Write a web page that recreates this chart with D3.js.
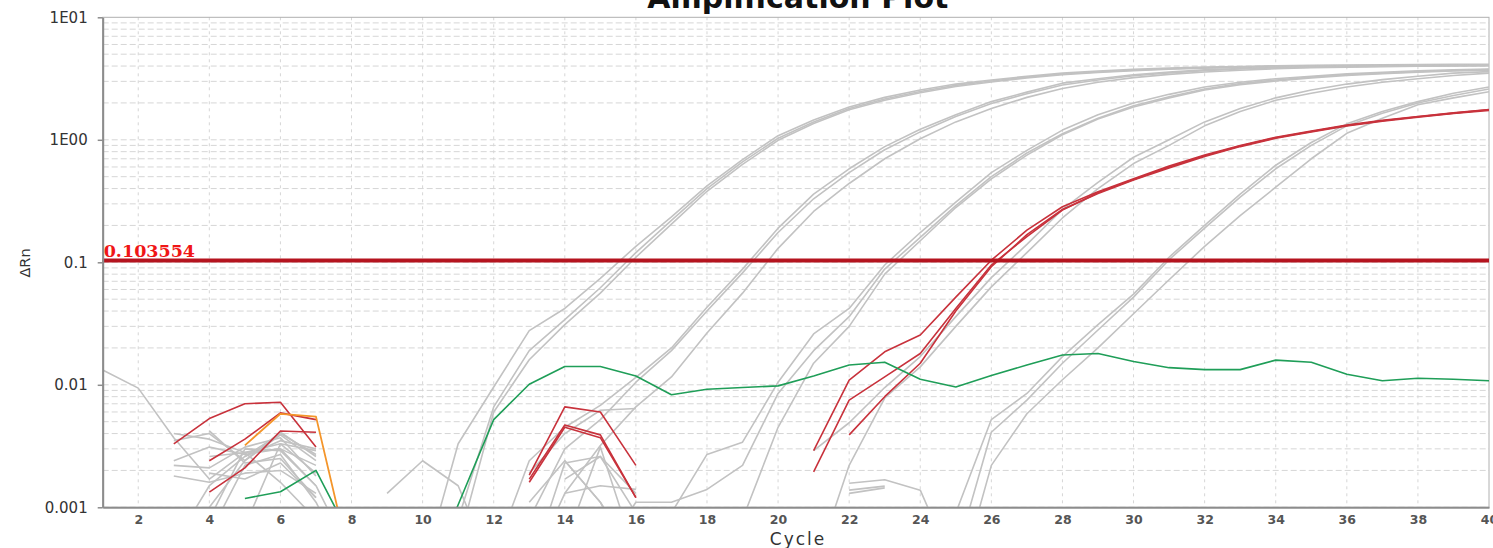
<!DOCTYPE html>
<html>
<head>
<meta charset="utf-8">
<script src="https://cdn.jsdelivr.net/npm/d3@7"></script>
<style>
  html, body { margin: 0; padding: 0; background: #ffffff; overflow: hidden; }
  svg { display: block; }
</style>
</head>
<body>
<svg id="chart" width="1493" height="548"></svg>
<script>
// ---- Axis definitions ----
const cycleTicks = [2, 4, 6, 8, 10, 12, 14, 16, 18, 20, 22, 24, 26, 28, 30, 32, 34, 36, 38, 40];
const yTickValues = [0.001, 0.01, 0.1, 1, 10];
const yTickLabels = ["0.001", "0.01", "0.1", "1E00", "1E01"];
const threshold = 0.103554;

// ---- Delta Rn traces: [first cycle, values per cycle] ----
// early baseline noise (cycles 1-8)
const noiseE0 = [0.0132, 0.0094, 0.0037, 0.0017, 0.0028, 0.0030, 0.0015];
const noiseE1 = [0.0040, 0.0036, 0.0028, 0.0033, 0.0029];
const noiseE2 = [0.0035, 0.0040, 0.0024, 0.0041, 0.0026];
const noiseE3 = [0.0024, 0.0031, 0.0027, 0.0030, 0.0022];
const noiseE4 = [0.0022, 0.0021, 0.0031, 0.0037, 0.0018];
const noiseE5 = [0.0018, 0.0016, 0.0019, 0.0020, 0.0013];
const noiseE6 = [0.0042, 0.0023, 0.0025, 0.0012];
const noiseE7 = [0.0005, 0.0015, 0.0026, 0.0040, 0.0027];
const noiseE8 = [0.0004, 0.0010, 0.0024, 0.0039, 0.0024];
const noiseE9 = [0.0008, 0.0030, 0.0029, 0.0015, 0.0004];
const noiseE10 = [0.0006, 0.0022, 0.0027, 0.0011, 0.0003];
const noiseE11 = [0.0007, 0.0033, 0.0019];
const noiseE12 = [0.0026, 0.0028, 0.0016, 0.0008];
const noiseE13 = [0.0019, 0.0017, 0.0023, 0.0012];
const noiseE14 = [0.0026, 0.0035, 0.0030];
const noiseM9 = [0.0013, 0.0024, 0.0015, 0.0003];
// mid-run noise (cycles 13-16, 22-24)
const noiseM1 = [0.0011, 0.0024, 0.0011, 0.0004];
const noiseM2 = [0.0019, 0.0040, 0.0062, 0.0064];
const noiseM3 = [0.0003, 0.0023, 0.0026, 0.0013];
const noiseM4 = [0.0013, 0.0015, 0.0014];
const noiseM5 = [0.0017, 0.0026, 0.0009];
const noiseM6 = [0.0024, 0.0011, 0.0003];
const noiseM7 = [0.0005, 0.0031, 0.0004];
const noiseF1 = [0.00157, 0.00168, 0.00138, 0.0003];
const noiseF2 = [0.00138, 0.00149];
const noiseF3 = [0.00130, 0.00144];

// amplification curves (grey wells)
const ampG1a = [0.0003, 0.0033, 0.0096, 0.0277, 0.042, 0.074, 0.135, 0.235, 0.42, 0.69, 1.08, 1.45, 1.85, 2.22, 2.55, 2.85, 3.08, 3.3, 3.5, 3.64, 3.76, 3.85, 3.92, 3.97, 4.02, 4.05, 4.08, 4.1, 4.12, 4.13, 4.14];
const ampG1b = [0.0002, 0.0008, 0.0066, 0.019, 0.034, 0.062, 0.12, 0.22, 0.40, 0.66, 1.03, 1.40, 1.80, 2.15, 2.48, 2.78, 3.02, 3.25, 3.44, 3.58, 3.70, 3.80, 3.87, 3.93, 3.98, 4.01, 4.04, 4.06, 4.08, 4.09, 4.10];
const ampG1c = [0.0005, 0.0060, 0.016, 0.031, 0.056, 0.11, 0.205, 0.38, 0.63, 0.99, 1.36, 1.76, 2.10, 2.42, 2.72, 2.96, 3.2, 3.4, 3.55, 3.67, 3.77, 3.85, 3.9, 3.95, 3.98, 4.0, 4.02, 4.04, 4.05, 4.06];
const ampG2a = [0.0004, 0.0024, 0.0045, 0.0068, 0.0115, 0.020, 0.043, 0.088, 0.19, 0.36, 0.58, 0.88, 1.22, 1.6, 2.05, 2.45, 2.9, 3.15, 3.4, 3.58, 3.72, 3.82, 3.9, 3.96, 4.0, 4.03, 4.05, 4.06, 4.07];
const ampG2b = [0.0008, 0.0030, 0.0052, 0.0105, 0.019, 0.040, 0.082, 0.175, 0.33, 0.54, 0.83, 1.16, 1.55, 1.98, 2.38, 2.8, 3.08, 3.33, 3.52, 3.67, 3.78, 3.86, 3.92, 3.96, 3.99, 4.01, 4.02, 4.03];
const ampG2c = [0.0003, 0.0013, 0.0032, 0.0066, 0.0116, 0.0265, 0.056, 0.13, 0.26, 0.44, 0.70, 1.02, 1.40, 1.80, 2.22, 2.62, 2.95, 3.22, 3.42, 3.58, 3.7, 3.8, 3.87, 3.92, 3.96, 3.99, 4.01, 4.02];
const ampG3a = [0.0009, 0.0027, 0.0034, 0.0105, 0.026, 0.042, 0.095, 0.175, 0.31, 0.54, 0.82, 1.2, 1.6, 2.0, 2.35, 2.7, 2.95, 3.15, 3.3, 3.45, 3.55, 3.65, 3.72, 3.78];
const ampG3b = [0.0004, 0.0011, 0.0011, 0.0014, 0.0022, 0.0085, 0.019, 0.036, 0.088, 0.16, 0.29, 0.50, 0.78, 1.12, 1.5, 1.9, 2.25, 2.6, 2.88, 3.08, 3.25, 3.4, 3.5, 3.6, 3.68, 3.74];
const ampG3c = [0.0008, 0.0045, 0.015, 0.030, 0.080, 0.15, 0.28, 0.48, 0.75, 1.1, 1.48, 1.85, 2.2, 2.55, 2.82, 3.02, 3.2, 3.35, 3.47, 3.57, 3.65, 3.7];
const ampG4a = [0.0029, 0.0049, 0.0095, 0.017, 0.036, 0.075, 0.14, 0.27, 0.45, 0.72, 1.0, 1.4, 1.8, 2.2, 2.55, 2.85, 3.1, 3.3, 3.5, 3.6];
const ampG4b = [0.0003, 0.0022, 0.0078, 0.014, 0.030, 0.063, 0.12, 0.23, 0.40, 0.64, 0.9, 1.3, 1.7, 2.1, 2.4, 2.7, 2.95, 3.15, 3.35, 3.5];
const ampG5a = [0.0002, 0.0009, 0.0052, 0.0085, 0.017, 0.031, 0.055, 0.11, 0.2, 0.36, 0.62, 0.95, 1.35, 1.7, 2.05, 2.4, 2.7];
const ampG5b = [0.0004, 0.0041, 0.0075, 0.015, 0.028, 0.052, 0.105, 0.19, 0.34, 0.58, 0.9, 1.3, 1.65, 2.0, 2.3, 2.6];
const ampG5c = [0.0002, 0.0022, 0.0058, 0.011, 0.020, 0.038, 0.072, 0.135, 0.24, 0.41, 0.7, 1.13, 1.5, 1.93, 2.2, 2.47];

// highlighted target wells (red)
const targetEarly1 = [0.0033, 0.0053, 0.0070, 0.0072, 0.0031];
const targetEarly2 = [0.0024, 0.0036, 0.0059, 0.0052];
const targetEarly3 = [0.00133, 0.0021, 0.0042, 0.0041];
const targetMid1 = [0.00183, 0.0066, 0.0060, 0.0022];
const targetMid2 = [0.0017, 0.0047, 0.0039, 0.0012];
const targetMid3 = [0.0016, 0.0045, 0.0037, 0.0012];
const targetAmpA = [0.0029, 0.0109, 0.0186, 0.0255, 0.052, 0.104, 0.183, 0.284, 0.377, 0.48, 0.61, 0.75, 0.90, 1.05, 1.18, 1.32, 1.44, 1.55, 1.66, 1.77];
const targetAmpB = [0.00195, 0.0075, 0.0116, 0.018, 0.042, 0.095, 0.162, 0.267, 0.37, 0.475, 0.60, 0.74, 0.89, 1.04, 1.17, 1.31, 1.43, 1.54, 1.65, 1.76];
const targetAmpC = [0.0039, 0.008, 0.015, 0.040, 0.092, 0.168, 0.27, 0.365, 0.47, 0.59, 0.73, 0.88, 1.03, 1.16, 1.30, 1.42, 1.53, 1.64, 1.74];

// orange well and green no-template control
const orangeWell = [0.0032, 0.0058, 0.0055, 0.00032];
const ntcWell = [0.00118, 0.00134, 0.0020, 0.00055, 0.0002, 0.0002, 0.00105, 0.0052, 0.0101, 0.0141, 0.0141, 0.0118, 0.0083, 0.0092, 0.0095, 0.0098, 0.0118, 0.0145, 0.0153, 0.0111, 0.0096, 0.0119, 0.0145, 0.0175, 0.0180, 0.0155, 0.0138, 0.0133, 0.0133, 0.0159, 0.0153, 0.0122, 0.0108, 0.0113, 0.0111, 0.0108];

const grayTraces = [
  [1, noiseE0], [3, noiseE1], [3, noiseE2], [3, noiseE3], [3, noiseE4], [3, noiseE5],
  [4, noiseE6], [3, noiseE7], [3, noiseE8], [4, noiseE9], [4, noiseE10], [5, noiseE11],
  [4, noiseE12], [4, noiseE13], [5, noiseE14], [9, noiseM9],
  [13, noiseM1], [13, noiseM2], [13, noiseM3], [14, noiseM4], [14, noiseM5], [14, noiseM6], [14, noiseM7],
  [22, noiseF1], [22, noiseF2], [22, noiseF3],
  [10, ampG1a], [10, ampG1b], [11, ampG1c],
  [12, ampG2a], [13, ampG2b], [13, ampG2c],
  [17, ampG3a], [15, ampG3b], [19, ampG3c],
  [21, ampG4a], [21, ampG4b],
  [24, ampG5a], [25, ampG5b], [25, ampG5c]
];
const redTraces = [
  [3, targetEarly1], [4, targetEarly2], [4, targetEarly3],
  [13, targetMid1], [13, targetMid2], [13, targetMid3],
  [21, targetAmpA], [21, targetAmpB], [22, targetAmpC]
];
const orangeTraces = [[5, orangeWell]];
const greenTraces = [[5, ntcWell]];

// ---- Layout ----
const svg = d3.select("#chart");
const plotLeft = 102.7, plotRight = 1489, plotTop = 17.3, plotBottom = 507.3;

const x = d3.scaleLinear().domain([1, 40]).range([plotLeft, plotRight]);
const y = d3.scaleLog().domain([0.001, 10]).range([plotBottom, plotTop]);

svg.append("defs").append("clipPath").attr("id", "plot-clip")
  .append("rect").attr("x", plotLeft).attr("y", plotTop)
  .attr("width", plotRight - plotLeft).attr("height", plotBottom - plotTop);

// ---- Grid ----
const grid = svg.append("g").attr("class", "grid");
const minorValues = [];
[0.001, 0.01, 0.1, 1].forEach(dec => {
  for (let k = 1; k <= 9; k++) minorValues.push(dec * k);
});
grid.selectAll("line.h").data(minorValues).enter().append("line")
  .attr("x1", plotLeft).attr("x2", plotRight)
  .attr("y1", d => y(d)).attr("y2", d => y(d))
  .attr("stroke", "#d6d6d6").attr("stroke-width", 1)
  .attr("stroke-dasharray", "6,3");
grid.selectAll("line.v").data(cycleTicks.filter(c => c < 40)).enter().append("line")
  .attr("x1", d => x(d)).attr("x2", d => x(d))
  .attr("y1", plotTop).attr("y2", plotBottom)
  .attr("stroke", "#d6d6d6").attr("stroke-width", 1)
  .attr("stroke-dasharray", "3,4");

// ---- Frame ----
svg.append("rect").attr("x", plotLeft).attr("y", plotTop)
  .attr("width", plotRight - plotLeft).attr("height", plotBottom - plotTop)
  .attr("fill", "none").attr("stroke", "#b0b0b0").attr("stroke-width", 1);

// ---- Traces ----
const line = d3.line()
  .x(d => x(d[0]))
  .y(d => y(d[1]));

function toPoints(trace) {
  const start = trace[0];
  return trace[1].map((v, i) => [start + i, v]);
}

const traceLayer = svg.append("g").attr("clip-path", "url(#plot-clip)");
function drawTraces(list, color, width) {
  traceLayer.append("g").selectAll("path").data(list).enter().append("path")
    .attr("d", t => line(toPoints(t)))
    .attr("fill", "none")
    .attr("stroke", color)
    .attr("stroke-width", width)
    .attr("stroke-linejoin", "round");
}
drawTraces(grayTraces, "#c2c2c2", 1.6);
drawTraces(redTraces, "#c8323c", 1.6);
drawTraces(orangeTraces, "#f4952a", 1.8);
drawTraces(greenTraces, "#1f9e58", 1.6);

// ---- Threshold ----
svg.append("line")
  .attr("x1", plotLeft).attr("x2", plotRight)
  .attr("y1", y(threshold)).attr("y2", y(threshold))
  .attr("stroke", "#b5141f").attr("stroke-width", 4);
svg.append("text")
  .attr("x", plotLeft + 1).attr("y", y(threshold) - 3)
  .attr("font-family", "DejaVu Serif")
  .attr("font-weight", "bold")
  .attr("font-size", 17.5)
  .attr("fill", "#f01616")
  .text(threshold.toString());

// ---- Axes ----
const yAxis = d3.axisLeft(y)
  .tickValues(yTickValues)
  .tickFormat((d, i) => yTickLabels[i])
  .tickSizeInner(5).tickSizeOuter(0).tickPadding(10);
const gy = svg.append("g").attr("transform", `translate(${plotLeft},0)`).call(yAxis);
gy.select(".domain").attr("stroke", "#8c8c8c").attr("stroke-width", 2);
gy.selectAll(".tick line").attr("stroke", "#8c8c8c").attr("stroke-width", 1.5);
gy.selectAll(".tick text")
  .attr("font-family", "DejaVu Sans").attr("font-size", 15).attr("fill", "#333333");

const xAxis = d3.axisBottom(x)
  .tickValues(cycleTicks)
  .tickFormat(d3.format("d"))
  .tickSizeInner(0).tickSizeOuter(0).tickPadding(8);
const gx = svg.append("g").attr("transform", `translate(0,${plotBottom})`).call(xAxis);
gx.select(".domain").attr("stroke", "#8c8c8c").attr("stroke-width", 2);
gx.selectAll(".tick text")
  .attr("font-family", "DejaVu Sans").attr("font-weight", "bold")
  .attr("font-size", 12.5).attr("fill", "#555555");

// ---- Titles ----
svg.append("text")
  .attr("x", (plotLeft + plotRight) / 2 + 2).attr("y", 8)
  .attr("text-anchor", "middle")
  .attr("font-family", "DejaVu Sans").attr("font-weight", "bold")
  .attr("font-size", 30).attr("fill", "#111111")
  .text("Amplification Plot");

svg.append("text")
  .attr("x", 798).attr("y", 545)
  .attr("text-anchor", "middle")
  .attr("font-family", "DejaVu Sans")
  .attr("font-size", 17).attr("letter-spacing", 2)
  .attr("fill", "#333333")
  .text("Cycle");

svg.append("text")
  .attr("transform", "translate(30,263) rotate(-90)")
  .attr("text-anchor", "middle")
  .attr("font-family", "DejaVu Sans")
  .attr("font-size", 14.5).attr("fill", "#333333")
  .text("ΔRn");
</script>
</body>
</html>
